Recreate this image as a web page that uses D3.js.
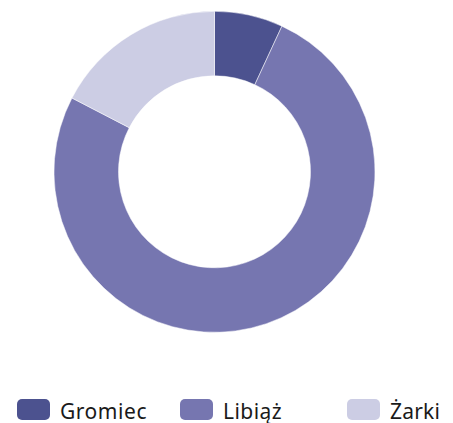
<!DOCTYPE html>
<html><head><meta charset="utf-8">
<script src="https://cdn.jsdelivr.net/npm/d3@7"></script>
<style>html,body{margin:0;padding:0;background:#fff;}</style>
</head><body>
<script>
const categories = ["Gromiec", "Libiąż", "Żarki"];
const values = [6.9, 75.7, 17.4];
const colors = ["#4c528f", "#7676b0", "#cccde4"];
const legendX = [17, 180, 347];

const W = 453, H = 423;
const svg = d3.select("body").append("svg").attr("width", W).attr("height", H);
const cx = 214.5, cy = 171.8, R = 160.5, r = 96;

const pie = d3.pie().sort(null).value(d => d)(values);
const arc = d3.arc().innerRadius(r).outerRadius(R);
const g = svg.append("g").attr("transform", `translate(${cx},${cy})`);
g.selectAll("path").data(pie).enter().append("path")
  .attr("d", arc).attr("fill", (d, i) => colors[i])
  .attr("stroke", "#fff").attr("stroke-width", 0.5);

const color = d3.scaleOrdinal().domain(categories).range(colors);
const lg = svg.append("g");
const targetW = [87, 59, 50];
categories.forEach((c, i) => {
  const x = legendX[i];
  lg.append("rect").attr("x", x).attr("y", 399).attr("width", 33).attr("height", 21)
    .attr("rx", 5).attr("fill", color(c));
  const t = lg.append("text").attr("x", x + 43).attr("y", 418.5)
    .attr("font-family", "'Noto Sans',sans-serif").attr("font-size", 21)
    .attr("fill", "#1a1a1a").text(c);
  const w = t.node().getComputedTextLength();
  const n = c.length;
  t.attr("letter-spacing", ((targetW[i] - w) / n).toFixed(2));
});
</script>
</body></html>
